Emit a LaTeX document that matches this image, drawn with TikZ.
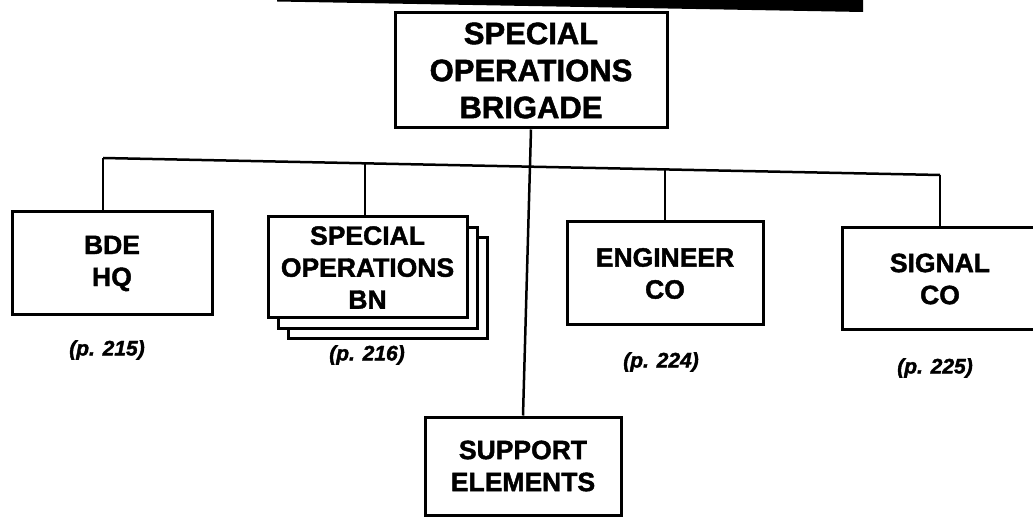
\documentclass[tikz,border=0pt]{standalone}
\usepackage{fontspec}
\setmainfont{Liberation Sans}[BoldFeatures={FakeBold=1.6},BoldItalicFeatures={FakeBold=1.8}]
\begin{document}
\begin{tikzpicture}[x=1pt,y=-1pt,
  box/.style={draw, line width=3pt, fill=white, rectangle, inner sep=0pt, align=center,
              font=\bfseries\fontsize{26.5}{32}\selectfont},
  pagelabel/.style={font=\bfseries\itshape\fontsize{21}{25}\selectfont},
  link/.style={line width=2.5pt}]
\clip (0,0) rectangle (1033,518);
% top black bar
\fill (277,0) -- (863,0) -- (863,12) -- (277,1.5) -- cycle;
% boxes
\node[box, minimum width=272, minimum height=115,
      font=\bfseries\fontsize{31}{37}\selectfont] (top) at (531,70.5) {SPECIAL\\OPERATIONS\\BRIGADE};
\node[box, minimum width=200, minimum height=103] (bde) at (112,263.5) {BDE\\HQ};
\node[box, minimum width=199, minimum height=101] (bn3) at (387.5,288.5) {};
\node[box, minimum width=199, minimum height=101] (bn2) at (377.5,278) {};
\node[box, minimum width=199, minimum height=101] (bn) at (367.5,267.5) {SPECIAL\\OPERATIONS\\BN};
\node[box, minimum width=196, minimum height=103] (eng) at (665,273.5) {ENGINEER\\CO};
\node[box, minimum width=196, minimum height=102] (sig) at (940,279) {SIGNAL\\CO};
\node[box, minimum width=196, minimum height=98] (sup) at (523,466) {SUPPORT\\ELEMENTS};
% page labels
\node[pagelabel] (p215) at (107,350) {(p. 215)};
\node[pagelabel] (p216) at (367,355) {(p. 216)};
\node[pagelabel] (p224) at (661,362) {(p. 224)};
\node[pagelabel] (p225) at (935,368) {(p. 225)};
% connectors
\coordinate (j1) at (103,158);
\coordinate (j2) at (365,163.3);
\coordinate (j3) at (665,169.4);
\coordinate (j4) at (940,175);
\draw[link] (j1) -- (j4);
\draw[link] (j1) -- (j1 |- bde.north);
\draw[link] (j2) -- (j2 |- bn.north);
\draw[link] (j3) -- (eng.north);
\draw[link] (j4) -- (sig.north);
\draw[link] (top.south) -- (sup.north);
\end{tikzpicture}
\end{document}
